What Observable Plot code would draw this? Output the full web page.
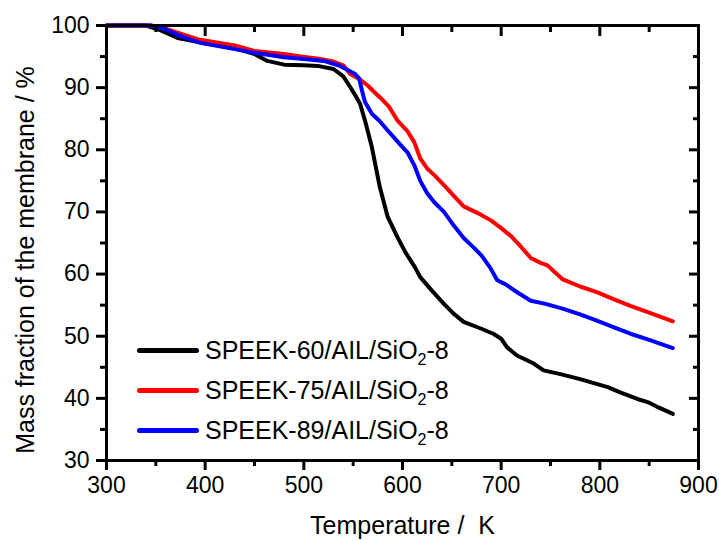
<!DOCTYPE html>
<html><head><meta charset="utf-8">
<script src="https://cdn.jsdelivr.net/npm/d3@7"></script>
<script src="https://cdn.jsdelivr.net/npm/@observablehq/plot@0.6"></script>
<style>
body{margin:0;background:#fff;}
#wrap{position:relative;width:719px;height:540px;font-family:"Liberation Sans",Arial,sans-serif;}
.legend{position:absolute;left:137px;top:330px;}
.item{display:flex;align-items:center;height:40px;font-size:25px;color:#000;white-space:nowrap;}
.sw{width:62px;height:5px;border-radius:2.5px;margin-right:6px;}
sub{font-size:16px;vertical-align:-6px;line-height:0;}
</style></head>
<body><div id="wrap"></div>
<script>
const seriesNames = ["SPEEK-60/AIL/SiO2-8", "SPEEK-75/AIL/SiO2-8", "SPEEK-89/AIL/SiO2-8"];
const seriesColors = ["#000000", "#ff0000", "#0000ff"];

const tempBlack = [300, 340, 355, 372, 395, 429, 450, 463, 480, 500, 514, 530, 540, 547, 552, 557, 562, 569, 577, 585, 595, 603, 613, 618, 630, 642, 652, 662, 680, 692, 700, 706, 716, 733, 743, 760, 780, 808, 820, 838, 850, 860, 874];
const massBlack = [100, 100, 99.2, 98.0, 97.3, 96.4, 95.4, 94.3, 93.7, 93.6, 93.5, 93.0, 91.8, 90.1, 88.8, 87.4, 84.7, 80.4, 74.0, 69.2, 65.9, 63.5, 61.0, 59.5, 57.3, 55.2, 53.6, 52.3, 51.2, 50.4, 49.6, 48.2, 46.9, 45.6, 44.5, 43.9, 43.1, 41.8, 41.0, 39.9, 39.3, 38.5, 37.5];

const tempRed = [300, 345, 360, 375, 395, 430, 450, 480, 497, 517, 530, 540, 547, 557, 565, 570, 578, 586, 595, 605, 612, 618, 625, 633, 642, 652, 662, 679, 690, 700, 710, 720, 730, 740, 747, 755, 762, 780, 797, 815, 831, 850, 874];
const massRed = [100, 100, 99.5, 98.7, 97.7, 96.8, 95.9, 95.4, 95.0, 94.6, 94.2, 93.6, 92.2, 91.3, 90.3, 89.5, 88.3, 87.0, 84.7, 83.0, 81.2, 78.6, 77.0, 75.8, 74.3, 72.6, 70.9, 69.6, 68.6, 67.4, 66.1, 64.4, 62.6, 61.8, 61.4, 60.2, 59.2, 58.0, 57.1, 55.9, 54.9, 53.8, 52.4];

const tempBlue = [300, 345, 360, 375, 395, 430, 450, 480, 500, 520, 535, 545, 552, 556, 559, 562, 569, 577, 585, 598, 605, 612, 618, 625, 632, 642, 652, 662, 672, 680, 689, 696, 705, 713, 730, 745, 763, 780, 797, 815, 831, 850, 874];
const massBlue = [100, 100, 99.4, 98.3, 97.2, 96.2, 95.6, 94.9, 94.6, 94.3, 93.6, 92.8, 92.2, 91.5, 89.5, 87.7, 85.8, 84.6, 83.1, 80.8, 79.6, 77.5, 75.0, 73.0, 71.6, 70.0, 67.8, 65.8, 64.3, 63.0, 61.0, 59.0, 58.3, 57.4, 55.7, 55.2, 54.4, 53.5, 52.5, 51.4, 50.4, 49.4, 48.1];

const xMajorTicks = [300, 400, 500, 600, 700, 800, 900];
const xMinorTicks = [350, 450, 550, 650, 750, 850];
const yMajorTicks = [30, 40, 50, 60, 70, 80, 90, 100];
const yMinorTicks = [35, 45, 55, 65, 75, 85, 95];

const xTitle = "Temperature / \u00a0K";
const yTitle = "Mass fraction of the membrane / %";

const rows = [];
[[tempBlack, massBlack], [tempRed, massRed], [tempBlue, massBlue]].forEach(([ts, ms], i) => {
  ts.forEach((t, j) => rows.push({T: t, M: ms[j], series: seriesNames[i]}));
});

const none = () => "";
const chart = Plot.plot({
  width: 719, height: 540,
  marginLeft: 106, marginRight: 21, marginTop: 25, marginBottom: 80,
  style: {fontFamily: "Liberation Sans, Arial, sans-serif", fontSize: "23px", background: "white", color: "black", overflow: "visible"},
  x: {domain: [300, 900]},
  y: {domain: [30, 100]},
  color: {domain: seriesNames, range: seriesColors},
  marks: [
    Plot.line(rows, {x: "T", y: "M", z: "series", stroke: "series", strokeWidth: 4, strokeLinejoin: "round", strokeLinecap: "round"}),
    Plot.frame({stroke: "black", strokeWidth: 3}),
    Plot.axisX(xMajorTicks, {anchor: "bottom", tickSize: 10, tickPadding: 6, strokeWidth: 3, label: null, tickFormat: d => String(d), fill: "black", fontSize: 23}),
    Plot.axisX(xMinorTicks, {anchor: "bottom", tickSize: 6, strokeWidth: 3, label: null, tickFormat: none}),
    Plot.axisX(xMajorTicks, {anchor: "top", tickSize: 10, dy: 10, strokeWidth: 3, label: null, tickFormat: none}),
    Plot.axisX(xMinorTicks, {anchor: "top", tickSize: 6, dy: 6, strokeWidth: 3, label: null, tickFormat: none}),
    Plot.axisY(yMajorTicks, {anchor: "left", tickSize: 10, tickPadding: 7, strokeWidth: 3, label: null, tickFormat: d => String(d), fill: "black", fontSize: 23}),
    Plot.axisY(yMinorTicks, {anchor: "left", tickSize: 6, strokeWidth: 3, label: null, tickFormat: none}),
    Plot.axisY(yMajorTicks, {anchor: "right", tickSize: 10, dx: -10, strokeWidth: 3, label: null, tickFormat: none}),
    Plot.axisY(yMinorTicks, {anchor: "right", tickSize: 6, dx: -6, strokeWidth: 3, label: null, tickFormat: none}),
    Plot.text([xTitle], {text: d => d, frameAnchor: "bottom", lineAnchor: "middle", textAnchor: "middle", dy: 65, fontSize: 25, fill: "black"}),
    Plot.text([yTitle], {text: d => d, frameAnchor: "left", lineAnchor: "middle", textAnchor: "middle", rotate: -90, dx: -81, dy: 17, fontSize: 25, fill: "black"})
  ]
});
const wrap = document.getElementById("wrap");
wrap.appendChild(chart);

const legend = document.createElement("div");
legend.className = "legend";
seriesNames.forEach((name, i) => {
  const item = document.createElement("div");
  item.className = "item";
  const sw = document.createElement("div");
  sw.className = "sw";
  sw.style.background = seriesColors[i];
  const label = document.createElement("span");
  label.innerHTML = name.replace("SiO2", "SiO<sub>2</sub>");
  item.appendChild(sw);
  item.appendChild(label);
  legend.appendChild(item);
});
wrap.appendChild(legend);
</script></body></html>
